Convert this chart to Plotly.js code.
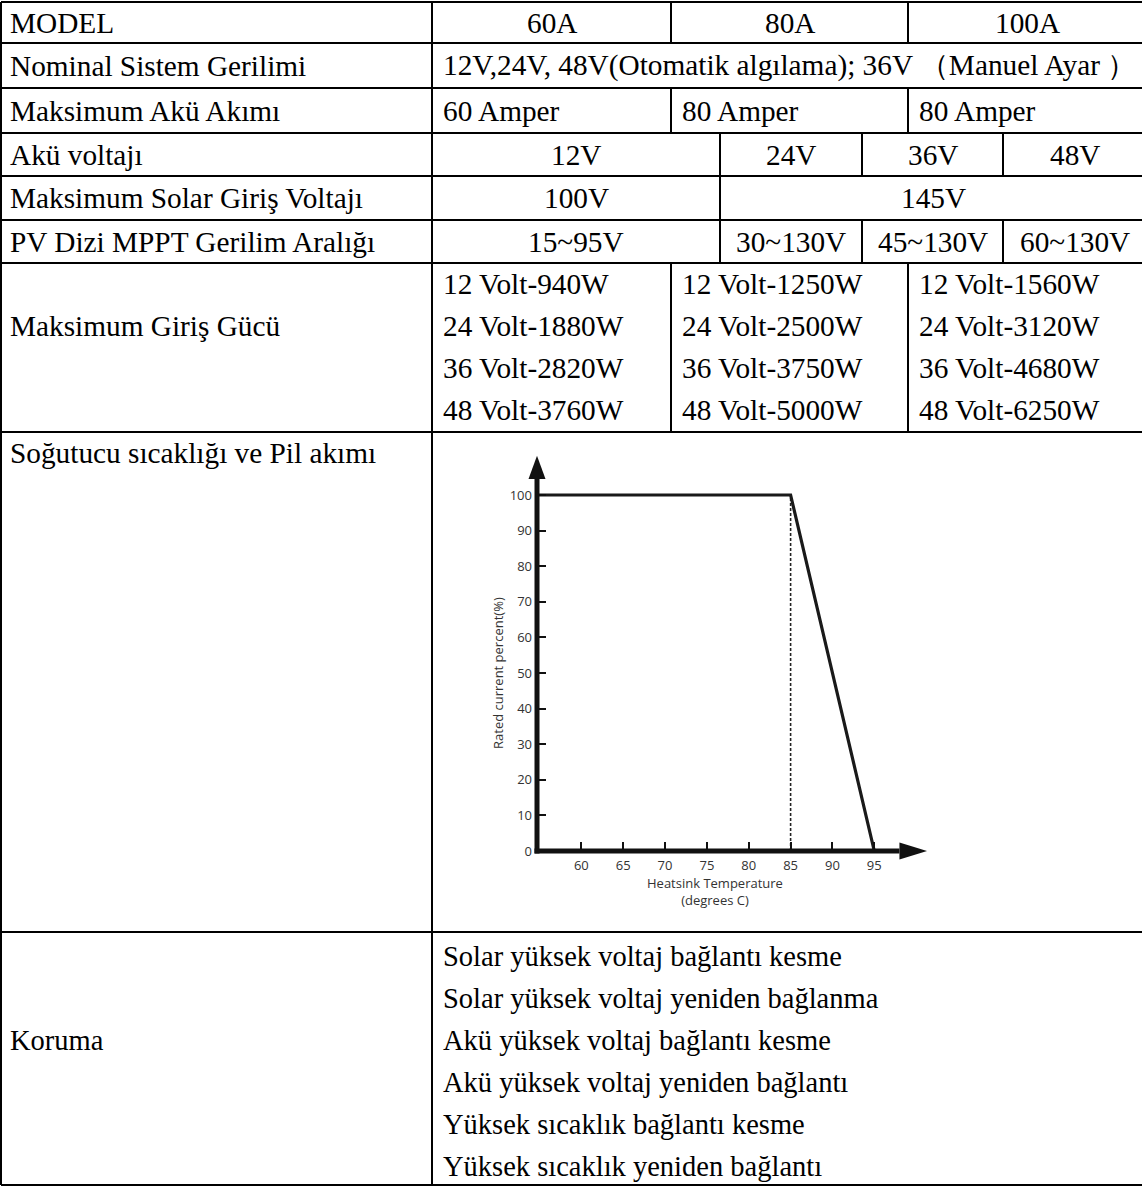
<!DOCTYPE html>
<html><head><meta charset="utf-8">
<script src="https://cdn.plot.ly/plotly-3.0.1.min.js"></script>
<style>html,body{margin:0;padding:0;background:#fff}#chart{width:1142px;height:1186px}</style>
</head><body><div id="chart"></div>
<script>
// ================= DATA =================
const rowLabels = ["MODEL", "Nominal Sistem Gerilimi", "Maksimum Akü Akımı", "Akü voltajı",
  "Maksimum Solar Giriş Voltajı", "PV Dizi MPPT Gerilim Aralığı", "Maksimum Giriş Gücü",
  "Soğutucu sıcaklığı ve Pil akımı", "Koruma"];
const models = ["60A", "80A", "100A"];
const nominalVoltage = "12V,24V, 48V(Otomatik algılama); 36V （Manuel Ayar ）";
const maxBatteryCurrent = ["60 Amper", "80 Amper", "80 Amper"];
const batteryVoltages = ["12V", "24V", "36V", "48V"];
const maxSolarVoltage = ["100V", "145V"];
const mpptRanges = ["15~95V", "30~130V", "45~130V", "60~130V"];
const inputPower60A = ["12 Volt-940W", "24 Volt-1880W", "36 Volt-2820W", "48 Volt-3760W"];
const inputPower80A = ["12 Volt-1250W", "24 Volt-2500W", "36 Volt-3750W", "48 Volt-5000W"];
const inputPower100A = ["12 Volt-1560W", "24 Volt-3120W", "36 Volt-4680W", "48 Volt-6250W"];
const protections = ["Solar yüksek voltaj bağlantı kesme", "Solar yüksek voltaj yeniden bağlanma",
  "Akü yüksek voltaj bağlantı kesme", "Akü yüksek voltaj yeniden bağlantı",
  "Yüksek sıcaklık bağlantı kesme", "Yüksek sıcaklık yeniden bağlantı"];

// derating curve
const heatsinkTemp = [54.7, 85, 95];
const ratedCurrentPct = [100, 100, 0];
const kneeTemp = [85, 85];
const kneePct = [0, 100];
const tempTicks = [60, 65, 70, 75, 80, 85, 90, 95];
const pctTicks = [0, 10, 20, 30, 40, 50, 60, 70, 80, 90, 100];
const xTitle = "Heatsink Temperature<br>(degrees C)";
const yTitle = "Rated current percent(%)";

// ================= LAYOUT (pixels) =================
const W = 1142, H = 1186;
const X = {L: 1, C1: 432, C2: 671, C3: 908, R: 1160, RV: 1146, V1: 720, V2: 862, V3: 1003};
const rowsY = [2, 43, 88, 133, 176, 220, 263, 432, 932, 1185];
const padL = 8, padR = 441;
const lineStep = 42;
const FONT = {family: "Liberation Serif, Times New Roman, serif", size: 29.3, color: "#000"};
const FONT_PROT = {family: FONT.family, size: 28.5, color: "#000"};

const annotations = [];
function txt(text, x, y, xanchor, font) {
  annotations.push({text: text, x: x, y: y, xref: "x", yref: "y", xanchor: xanchor || "left",
    yanchor: "middle", showarrow: false, font: font || FONT});
}
const mid = (a, b) => (a + b) / 2;
const rc = i => mid(rowsY[i], rowsY[i + 1]);

// left labels
[0, 1, 2, 3, 4, 5].forEach(i => txt(rowLabels[i], padL, rc(i)));
const powerY0 = 284;
txt(rowLabels[6], padL, powerY0 + lineStep);
txt(rowLabels[7], padL, 453);
const protY0 = 956;
txt(rowLabels[8], padL, protY0 + 2 * lineStep, "left", FONT_PROT);

// row 0
const c3 = [mid(X.C1, X.C2), mid(X.C2, X.C3), mid(X.C3, X.RV)];
models.forEach((m, i) => txt(m, c3[i], rc(0), "center"));
// row 1
txt(nominalVoltage, padR, rc(1));
// row 2
const l3 = [padR, X.C2 + 9, X.C3 + 9];
maxBatteryCurrent.forEach((m, i) => txt(m, l3[i], rc(2)));
// row 3 / 5
const c4 = [mid(X.C1, X.V1), mid(X.V1, X.V2), mid(X.V2, X.V3), mid(X.V3, X.RV)];
batteryVoltages.forEach((m, i) => txt(m, c4[i], rc(3), "center"));
mpptRanges.forEach((m, i) => txt(m, c4[i], rc(5), "center"));
// row 4
txt(maxSolarVoltage[0], c4[0], rc(4), "center");
txt(maxSolarVoltage[1], mid(X.V1, X.RV), rc(4), "center");
// row 6
[inputPower60A, inputPower80A, inputPower100A].forEach((col, j) =>
  col.forEach((s, k) => txt(s, l3[j], powerY0 + k * lineStep)));
// row 8
protections.forEach((s, k) => txt(s, padR, protY0 + k * lineStep, "left", FONT_PROT));

// grid lines
const shapes = [];
const LW = 2;
function seg(x0, y0, x1, y1, color, width) {
  shapes.push({type: "line", xref: "x", yref: "y", x0: x0, y0: y0, x1: x1, y1: y1,
    line: {color: color || "#000", width: width || LW}});
}
rowsY.forEach(y => seg(X.L, y, X.R, y));
seg(X.L, rowsY[0], X.L, rowsY[9]);
seg(X.C1, rowsY[0], X.C1, rowsY[9]);
[0, 2, 6].forEach(i => { seg(X.C2, rowsY[i], X.C2, rowsY[i + 1]); seg(X.C3, rowsY[i], X.C3, rowsY[i + 1]); });
[3, 4, 5].forEach(i => seg(X.V1, rowsY[i], X.V1, rowsY[i + 1]));
[3, 5].forEach(i => { seg(X.V2, rowsY[i], X.V2, rowsY[i + 1]); seg(X.V3, rowsY[i], X.V3, rowsY[i + 1]); });

// ---- inset chart geometry ----
const inset = {x0px: 537, y0px: 851, pxPerX: 8.37, pxPerY: 3.56};
const xRange2 = [heatsinkTemp[0], 102];
const yRange2 = [0, 112];
const dom2x = [inset.x0px / W, (inset.x0px + (xRange2[1] - xRange2[0]) * inset.pxPerX) / W];
const dom2y = [1 - inset.y0px / H, 1 - (inset.y0px - (yRange2[1] - yRange2[0]) * inset.pxPerY) / H];
const px = v => inset.x0px + (v - xRange2[0]) * inset.pxPerX;
const py = v => inset.y0px - (v - yRange2[0]) * inset.pxPerY;
// axis lines with arrowheads (drawn on the unclipped page axes)
const AX = {w: 5, yTip: 111, yBase: 104.5, xTip: 101.3, xBase: 98, half: 8.5};
const ax0 = px(xRange2[0]), ay0 = py(0);
seg(ax0, ay0 + AX.w / 2, ax0, py(AX.yBase), "#111", AX.w);
seg(ax0 - AX.w / 2, ay0, px(AX.xBase), ay0, "#111", AX.w);
shapes.push({type: "path", xref: "x", yref: "y",
  path: `M ${ax0 - AX.half} ${py(AX.yBase)} L ${ax0} ${py(AX.yTip)} L ${ax0 + AX.half} ${py(AX.yBase)} Z`,
  fillcolor: "#111", line: {width: 0}});
shapes.push({type: "path", xref: "x", yref: "y",
  path: `M ${px(AX.xBase)} ${ay0 - AX.half} L ${px(AX.xTip)} ${ay0} L ${px(AX.xBase)} ${ay0 + AX.half} Z`,
  fillcolor: "#111", line: {width: 0}});

const tickFont = {family: "Open Sans, DejaVu Sans, sans-serif", size: 13, color: "#333"};
// axis titles
annotations.push({text: xTitle, x: 715, y: 891, xref: "x", yref: "y", xanchor: "center", yanchor: "middle",
  showarrow: false, font: tickFont});
annotations.push({text: yTitle, x: 498, y: mid(py(0), py(100)), xref: "x", yref: "y",
  xanchor: "center", yanchor: "middle", textangle: -90, showarrow: false,
  font: {family: tickFont.family, size: 13, color: "#333"}});

const traces = [
  {type: "scatter", mode: "lines", x: kneeTemp, y: kneePct, xaxis: "x2", yaxis: "y2",
    line: {color: "#222", width: 1.6, dash: "3px,2px"}, hoverinfo: "skip", showlegend: false},
  {type: "scatter", mode: "lines", x: heatsinkTemp, y: ratedCurrentPct, xaxis: "x2", yaxis: "y2",
    line: {color: "#1a1a1a", width: 3.2}, hoverinfo: "skip", showlegend: false}
];

const layout = {
  width: W, height: H, margin: {l: 0, r: 0, t: 0, b: 0},
  paper_bgcolor: "#fff", plot_bgcolor: "rgba(0,0,0,0)", showlegend: false,
  xaxis: {range: [0, W], domain: [0, 1], visible: false, fixedrange: true},
  yaxis: {range: [H, 0], domain: [0, 1], visible: false, fixedrange: true},
  xaxis2: {range: xRange2, domain: dom2x, anchor: "y2", showgrid: false, zeroline: false, showline: false,
    tickmode: "array", tickvals: tempTicks, ticktext: tempTicks.map(String),
    ticks: "inside", ticklen: 9, tickwidth: 2, tickcolor: "#111", tickfont: tickFont, ticklabelstandoff: 5},
  yaxis2: {range: yRange2, domain: dom2y, anchor: "x2", showgrid: false, zeroline: false, showline: false,
    tickmode: "array", tickvals: pctTicks, ticktext: pctTicks.map(String),
    ticks: "inside", ticklen: 9, tickwidth: 2, tickcolor: "#111", tickfont: tickFont, ticklabelstandoff: 4},
  shapes: shapes,
  annotations: annotations
};

Plotly.newPlot("chart", traces, layout, {staticPlot: true, displayModeBar: false});
</script>
</body></html>
